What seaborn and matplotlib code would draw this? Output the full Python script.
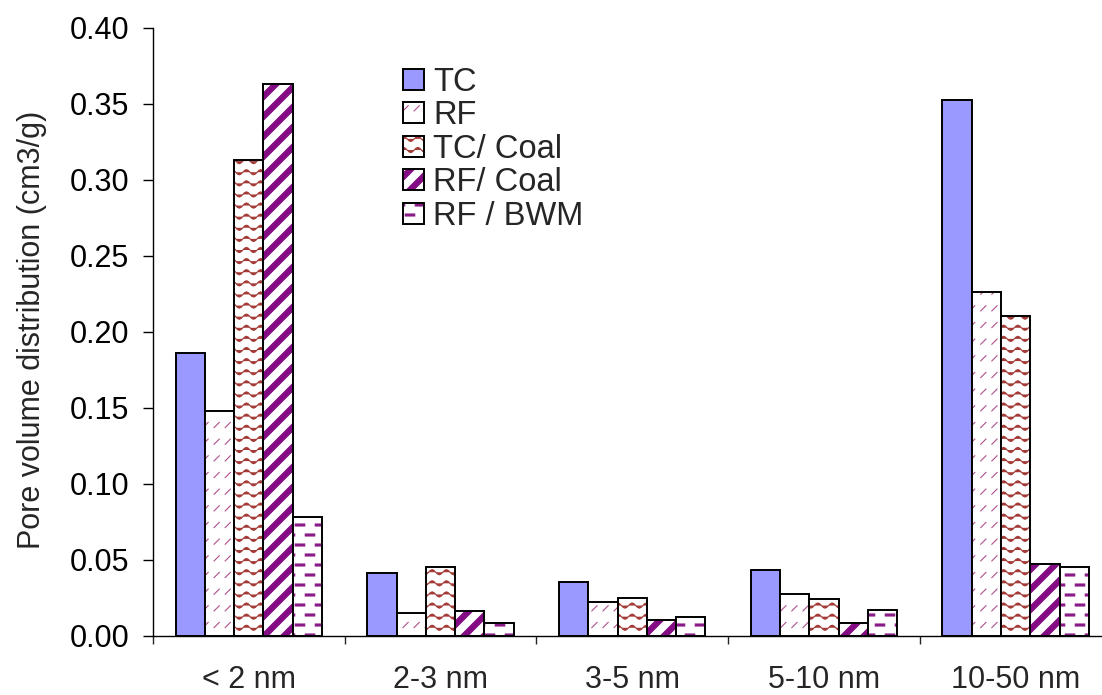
import warnings
import numpy as np
import pandas as pd
import matplotlib
matplotlib.use("Agg")
import matplotlib.pyplot as plt
import matplotlib.hatch as mhatch
import matplotlib.patches as mpatches
from matplotlib.colors import to_rgba
from matplotlib.path import Path
import seaborn as sns

warnings.filterwarnings("ignore")

# ---------------------------------------------------------------- data
categories = ["< 2 nm", "2-3 nm", "3-5 nm", "5-10 nm", "10-50 nm"]
series_names = ["TC", "RF", "TC/ Coal", "RF/ Coal", "RF / BWM"]
tc = [0.186, 0.041, 0.035, 0.043, 0.352]
rf = [0.148, 0.015, 0.022, 0.027, 0.226]
tc_coal = [0.313, 0.045, 0.025, 0.024, 0.210]
rf_coal = [0.363, 0.016, 0.010, 0.008, 0.047]
rf_bwm = [0.078, 0.008, 0.012, 0.017, 0.045]
y_ticks = [0.00, 0.05, 0.10, 0.15, 0.20, 0.25, 0.30, 0.35, 0.40]


# ---------------------------------------------------------------- custom fill patterns
# Each pattern is defined on the unit hatch tile (one tile = 72 px here).
class _TileHatch(mhatch.HatchPatternBase):
    key = None

    def __init__(self, hatch, density):
        self.num_vertices = 0
        if hatch and self.key in hatch:
            self.verts, self.codes = self.build()
            self.num_vertices = len(self.verts)

    def set_vertices_and_codes(self, vertices, codes):
        vertices[:] = self.verts
        codes[:] = self.codes


def _rect(cx, cy, w, h):
    v = [(cx - w / 2, cy - h / 2), (cx + w / 2, cy - h / 2),
         (cx + w / 2, cy + h / 2), (cx - w / 2, cy + h / 2), (0, 0)]
    c = [Path.MOVETO, Path.LINETO, Path.LINETO, Path.LINETO, Path.CLOSEPOLY]
    return v, c


class DashDiagHatch(_TileHatch):
    """Short upward-diagonal dashes."""
    key = "d"

    def build(self):
        v, c = [], []
        nx, ny, L = 9, 6, 0.052
        for j in range(ny):
            cy = (j + 0.5) / ny
            for i in range(nx):
                cx = (i + 0.5) / nx
                v += [(cx - L / 2, cy - L / 2), (cx + L / 2, cy + L / 2)]
                c += [Path.MOVETO, Path.LINETO]
        return np.array(v), np.array(c, dtype=Path.code_type)


class WaveHatch(_TileHatch):
    """Horizontal wavy lines."""
    key = "w"

    def build(self):
        v, c = [], []
        rows, periods, amp = 9, 7, 0.026
        xs = np.linspace(0, 1, periods * 8 + 1)
        for j in range(rows):
            y0 = (j + 0.5) / rows
            ys = y0 + amp * np.sin(2 * np.pi * periods * xs)
            for k, (x, y) in enumerate(zip(xs, ys)):
                v.append((x, y))
                c.append(Path.MOVETO if k == 0 else Path.LINETO)
        return np.array(v), np.array(c, dtype=Path.code_type)


class StripeHatch(_TileHatch):
    """Wide upward-diagonal stripes."""
    key = "s"

    def build(self):
        v, c = [], []
        n, h = 5, 0.074
        for k in range(-n, n + 1):
            off = k / n
            v += [(-0.1, -0.1 + off - h / 2), (1.1, 1.1 + off - h / 2),
                  (1.1, 1.1 + off + h / 2), (-0.1, -0.1 + off + h / 2),
                  (0, 0)]
            c += [Path.MOVETO, Path.LINETO, Path.LINETO, Path.LINETO,
                  Path.CLOSEPOLY]
        return np.array(v), np.array(c, dtype=Path.code_type)


class BrickDashHatch(_TileHatch):
    """Staggered short horizontal dashes."""
    key = "b"

    def build(self):
        v, c = [], []
        rows, cols, L, h = 10, 5, 0.095, 0.020
        for j in range(rows):
            cy = (j + 0.5) / rows
            if j % 2 == 0:
                centers = [(i + 0.5) / cols for i in range(cols)]
            else:
                centers = [i / cols for i in range(cols + 1)]
            for cx in centers:
                rv, rc = _rect(cx, cy, L, h)
                v += rv
                c += rc
        return np.array(v), np.array(c, dtype=Path.code_type)


for cls in (DashDiagHatch, WaveHatch, StripeHatch, BrickDashHatch):
    mhatch._hatch_types.append(cls)

faces = {"TC": "#9999FF", "RF": "white", "TC/ Coal": "white",
         "RF/ Coal": "white", "RF / BWM": "white"}
hatches = {"TC": None, "RF": "d", "TC/ Coal": "w", "RF/ Coal": "s", "RF / BWM": "b"}
hatch_colors = {"TC": "black", "RF": "#B0508A", "TC/ Coal": "#A33A36",
                "RF/ Coal": "#840A84", "RF / BWM": "#8A1A88"}


def style_patch(p, name):
    p.set_facecolor(faces[name])
    p.set_edgecolor("black")
    if hatches[name]:
        p.set_hatch(hatches[name])
        col = to_rgba(hatch_colors[name])
        if hasattr(p, "set_hatchcolor"):
            p.set_hatchcolor(col)
        else:
            p._hatch_color = col


# ---------------------------------------------------------------- figure
sns.set_theme(style="ticks")
plt.rcParams["font.family"] = ["Liberation Sans", "DejaVu Sans"]
plt.rcParams["hatch.linewidth"] = 0.8

df = pd.DataFrame({
    "size": np.tile(categories, len(series_names)),
    "sample": np.repeat(series_names, len(categories)),
    "volume": np.concatenate([tc, rf, tc_coal, rf_coal, rf_bwm]),
})

fig = plt.figure(figsize=(11.02, 6.95), dpi=100)
ax = fig.add_axes([0.1388, 0.0856, 0.8698, 0.8748])

sns.barplot(data=df, x="size", y="volume", hue="sample", order=categories,
            hue_order=series_names, palette=faces, saturation=1,
            width=0.764, errorbar=None, edgecolor="black", linewidth=1.4,
            legend=False, ax=ax)

for name, cont in zip(series_names, ax.containers):
    for p in cont.patches:
        style_patch(p, name)

ax.set_xlim(-0.5, 4.5)
ax.set_ylim(0, 0.40)
ax.set_yticks(y_ticks)
ax.set_yticklabels([f"{t:.2f}" for t in y_ticks], fontsize=22)
ax.tick_params(axis="y", length=10 * 0.72, width=1, pad=10, colors="black")

ax.set_xticks(np.arange(-0.5, 5.0, 1.0))
ax.set_xticklabels([])
ax.set_xticks(np.arange(len(categories)), minor=True)
ax.set_xticklabels(categories, minor=True, fontsize=22)
ax.tick_params(axis="x", which="major", length=6, width=1, direction="out")
ax.tick_params(axis="x", which="minor", length=0, pad=21)

ax.set_xlabel("")
ax.set_ylabel("Pore volume distribution (cm3/g)", fontsize=22)
ax.yaxis.label.set_va("center")
ax.yaxis.set_label_coords(-0.1262, 0.503)

for side in ("top", "right"):
    ax.spines[side].set_visible(False)
for side in ("left", "bottom"):
    ax.spines[side].set_color("black")
    ax.spines[side].set_linewidth(1.0)

handles = []
for name in series_names:
    h = mpatches.Patch(linewidth=1.4, label=name)
    style_patch(h, name)
    handles.append(h)

fig.legend(handles=handles, loc="upper left",
           bbox_to_anchor=(403 / 1102, 1 - 67 / 695),
           frameon=False, fontsize=23.5, handlelength=0.64, handleheight=0.61,
           handletextpad=0.28, labelspacing=0.075, borderpad=0, borderaxespad=0)

fig.savefig("out.png", dpi=100)
